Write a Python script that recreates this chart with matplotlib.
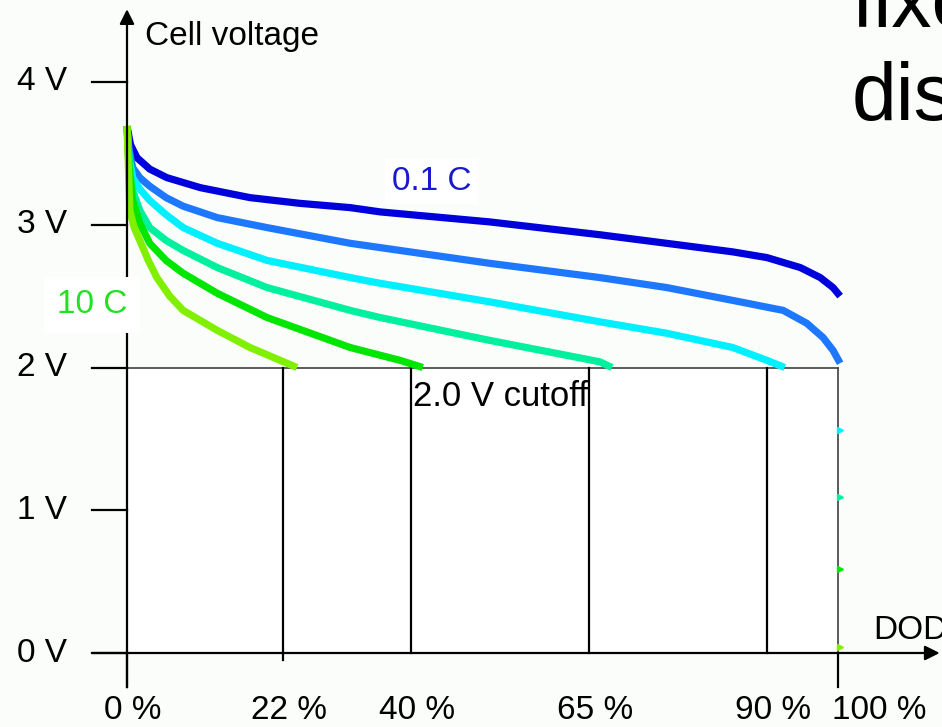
"""
Discharge curves of a cell at different C-rates, with DOD at 2.0 V cutoff
"""

import matplotlib.pyplot as plt

plt.rcParams['font.family'] = ['Liberation Sans', 'DejaVu Sans']

# depth of discharge (%) and cell voltage (V) for each C-rate
dod_01c = [0, 0.5, 1.4, 3.2, 5.6, 10.3, 17.3, 24.3, 31.4, 35.6, 51, 66.5, 75.9, 85.2, 90, 94.7, 97.5, 99.3, 100.3]
v_01c = [3.69, 3.56, 3.47, 3.39, 3.33, 3.26, 3.19, 3.15, 3.12, 3.09, 3.02, 2.93, 2.87, 2.81, 2.77, 2.70, 2.63, 2.56, 2.50]

dod_c2 = [0, 0.3, 0.8, 1.8, 3.2, 5.5, 7.9, 12.7, 19.7, 31.4, 35.6, 51, 66.5, 75.9, 85.2, 92.3, 95.6, 97.9, 99.3, 100.3]
v_c2 = [3.69, 3.52, 3.40, 3.33, 3.27, 3.19, 3.13, 3.05, 2.98, 2.87, 2.84, 2.73, 2.63, 2.56, 2.47, 2.40, 2.31, 2.21, 2.12, 2.03]

dod_c3 = [0, 0.3, 0.8, 1.8, 3.2, 5.5, 7.9, 12.7, 19.7, 31.4, 35.6, 51, 66.5, 75.9, 85.2, 90, 92.5]
v_c3 = [3.69, 3.47, 3.33, 3.25, 3.17, 3.07, 2.98, 2.87, 2.75, 2.63, 2.59, 2.46, 2.32, 2.24, 2.14, 2.05, 2.00]

dod_c4 = [0, 0.3, 0.8, 1.8, 3.2, 5.5, 7.9, 12.7, 19.7, 31.4, 35.6, 51, 66.5, 68.2]
v_c4 = [3.69, 3.42, 3.24, 3.10, 2.98, 2.89, 2.82, 2.70, 2.56, 2.40, 2.35, 2.19, 2.04, 2.00]

dod_c5 = [0, 0.3, 0.8, 1.8, 3.2, 5.5, 7.9, 12.7, 19.7, 31.4, 38.4, 41.6]
v_c5 = [3.69, 3.40, 3.17, 3.01, 2.87, 2.75, 2.66, 2.52, 2.35, 2.14, 2.05, 2.00]

dod_10c = [0, 0.2, 0.4, 1.0, 1.8, 3.0, 4.2, 6.0, 7.9, 12.7, 17.3, 23.9]
v_10c = [3.69, 3.40, 3.10, 2.98, 2.89, 2.75, 2.63, 2.50, 2.40, 2.26, 2.14, 2.00]

# stray samples after the cutoff, at the 100 % line
tail_dod = 100.3
tail_v = [None, None, 1.56, 1.09, 0.59, 0.04]

curve_colors = ['#0000dc', '#1e78ff', '#00f0ff', '#00f0a0', '#00e600', '#80f000']

cutoff_v = 2.0
cutoff_dod = [22, 40, 65, 90]
y_ticks = [0, 1, 2, 3, 4]
x_ticks = [0, 22, 40, 65, 90, 100]

fig = plt.figure(figsize=(9.42, 7.27), dpi=100, facecolor='#fbfdfb')
ax = fig.add_axes([127 / 942, 74 / 727, 711 / 942, 571 / 727])
ax.set_xlim(0, 100)
ax.set_ylim(0, 4)
ax.axis('off')

FS = 24

# white area under the cutoff
ax.add_patch(plt.Rectangle((0, 0), 100, cutoff_v, facecolor='white', edgecolor='none', zorder=0))
ax.plot([0, 100], [cutoff_v, cutoff_v], color='#404040', lw=1.2, zorder=1, clip_on=False)
ax.plot([100, 100], [0, cutoff_v], color='#404040', lw=1.2, zorder=1, clip_on=False)

# vertical lines where each curve hits the cutoff
for i, d in enumerate(cutoff_dod):
    bottom = -0.05 if i == 0 else 0
    ax.plot([d, d], [bottom, cutoff_v], color='black', lw=1.6, zorder=1, clip_on=False)

# curves
curves = [(dod_01c, v_01c), (dod_c2, v_c2), (dod_c3, v_c3),
          (dod_c4, v_c4), (dod_c5, v_c5), (dod_10c, v_10c)]
for (xs, ys), c in zip(curves, curve_colors):
    ax.plot(xs, ys, color=c, lw=5.2, solid_capstyle='butt', solid_joinstyle='round',
            zorder=3, clip_on=False)
for v, c in zip(tail_v, curve_colors):
    if v is not None:
        ax.plot([tail_dod], [v], marker='>', ms=4, color=c, lw=0, zorder=3, clip_on=False)

# axes with arrows
ax.annotate('', xy=(0, 4.51), xytext=(0, -0.24), annotation_clip=False,
            arrowprops=dict(arrowstyle='-|>', lw=1.6, color='black', mutation_scale=22,
                            shrinkA=0, shrinkB=0))
ax.annotate('', xy=(114.3, 0), xytext=(-4.9, 0), annotation_clip=False,
            arrowprops=dict(arrowstyle='-|>', lw=1.6, color='black', mutation_scale=22,
                            shrinkA=0, shrinkB=0))

# y ticks and labels
for t in y_ticks:
    ax.plot([-4.9, 0], [t, t], color='black', lw=1.6, clip_on=False, zorder=2)
    ax.text(-8.4, t, f'{t} V', ha='right', va='center', fontsize=FS)

# x ticks and labels
for t in (0, 100):
    ax.plot([t, t], [0, -0.24], color='black', lw=1.6, clip_on=False, zorder=2)
for t in x_ticks:
    if t == 100:
        ax.text(t - 0.8, -0.40, f'{t} %', ha='left', va='center', fontsize=FS)
    else:
        ax.text(t + 0.8, -0.40, f'{t} %', ha='center', va='center', fontsize=FS)

ax.text(2.5, 4.32, 'Cell voltage', ha='left', va='center', fontsize=FS)
ax.text(104.9, 0.16, 'DOD', ha='left', va='center', fontsize=FS)
ax.text(40.2, 1.80, '2.0 V cutoff', ha='left', va='center', fontsize=FS + 1, zorder=4)

ax.text(42.8, 3.30, '0.1 C', ha='center', va='center', fontsize=FS, color='#1a1acd',
        bbox=dict(facecolor='white', edgecolor='none', pad=5), zorder=2)
ax.text(-4.9, 2.44, '10 C', ha='center', va='center', fontsize=FS, color='#22e022',
        bbox=dict(facecolor='white', edgecolor='none', pad=9), zorder=4)

# slide title, cut by the right edge
fig.text(852 / 942, 1 - 27 / 727, 'fixed', ha='left', va='baseline', fontsize=58)
fig.text(852 / 942, 1 - 120 / 727, 'discharge', ha='left', va='baseline', fontsize=58)

fig.savefig('out.png', dpi=100, facecolor=fig.get_facecolor())
